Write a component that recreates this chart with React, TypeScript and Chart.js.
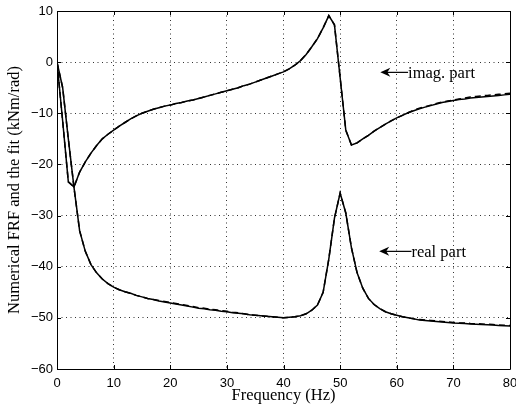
import { useEffect, useRef } from "react";
import { Chart, registerables } from "chart.js";

Chart.register(...registerables);

const frequencyHz = [
  0, 1, 2, 3, 4, 5, 6, 7, 8, 9, 10, 11, 12, 13, 14, 15, 16, 17, 18, 19, 20,
  21, 22, 23, 24, 25, 26, 27, 28, 29, 30, 31, 32, 33, 34, 35, 36, 37, 38, 39, 40,
  41, 42, 43, 44, 45, 46, 47, 48, 49, 50, 51, 52, 53, 54, 55, 56, 57, 58, 59, 60,
  61, 62, 63, 64, 65, 66, 67, 68, 69, 70, 71, 72, 73, 74, 75, 76, 77, 78, 79, 80,
];

const imagNumerical = [
  0, -11.5, -23.4, -24.4, -21.5, -19.5, -17.8, -16.3, -15.0, -14.1, -13.3,
  -12.5, -11.8, -11.1, -10.5, -10.0, -9.6, -9.2, -8.9, -8.6, -8.4,
  -8.1, -7.9, -7.6, -7.4, -7.1, -6.8, -6.5, -6.2, -5.9, -5.6,
  -5.3, -5.0, -4.6, -4.3, -3.9, -3.5, -3.1, -2.7, -2.3, -1.9,
  -1.3, -0.6, 0.3, 1.5, 3.0, 4.6, 6.7, 9.1, 7.3, -3.0,
  -13.3, -16.2, -15.8, -15.0, -14.3, -13.5, -12.8, -12.1, -11.5, -10.9,
  -10.4, -9.9, -9.5, -9.1, -8.8, -8.5, -8.2, -7.9, -7.7, -7.5,
  -7.3, -7.2, -7.0, -6.9, -6.8, -6.7, -6.6, -6.5, -6.4, -6.3,
];

const imagFit = [
  0, -11.5, -23.4, -24.4, -21.5, -19.5, -17.8, -16.3, -15.0, -14.1, -13.3,
  -12.5, -11.8, -11.1, -10.5, -10.0, -9.6, -9.2, -8.9, -8.6, -8.4,
  -8.1, -7.9, -7.6, -7.4, -7.1, -6.8, -6.5, -6.2, -5.9, -5.6,
  -5.3, -5.0, -4.6, -4.3, -3.9, -3.5, -3.1, -2.7, -2.3, -1.9,
  -1.3, -0.6, 0.3, 1.5, 3.0, 4.6, 6.7, 9.1, 7.3, -3.0,
  -13.3, -16.2, -15.8, -15.0, -14.3, -13.5, -12.8, -12.1, -11.5, -10.9,
  -10.4, -9.9, -9.4, -9.0, -8.7, -8.4, -8.1, -7.8, -7.6, -7.4,
  -7.2, -7.0, -6.8, -6.7, -6.6, -6.5, -6.4, -6.3, -6.2, -6.1,
];

const realNumerical = [
  0, -5.0, -15.0, -24.5, -33.0, -37.0, -39.6, -41.2, -42.4, -43.3, -44.0,
  -44.5, -44.9, -45.2, -45.6, -45.9, -46.2, -46.4, -46.7, -46.9, -47.1,
  -47.3, -47.5, -47.7, -47.9, -48.1, -48.2, -48.4, -48.5, -48.7, -48.8,
  -49.0, -49.1, -49.2, -49.4, -49.5, -49.6, -49.7, -49.8, -49.9, -50.0,
  -49.9, -49.8, -49.6, -49.2, -48.5, -47.5, -45.0, -38.5, -30.5, -25.6,
  -29.5, -36.3, -41.2, -44.2, -46.2, -47.4, -48.2, -48.8, -49.2, -49.5,
  -49.8, -50.0, -50.2, -50.4, -50.5, -50.6, -50.7, -50.8, -50.9, -51.0,
  -51.05, -51.1, -51.2, -51.25, -51.3, -51.35, -51.4, -51.5, -51.55, -51.6,
];

const realFit = [
  0, -5.0, -15.0, -24.5, -33.0, -37.0, -39.6, -41.2, -42.4, -43.3, -44.0,
  -44.5, -44.9, -45.2, -45.6, -45.9, -46.2, -46.4, -46.6, -46.8, -47.0,
  -47.2, -47.4, -47.6, -47.8, -48.0, -48.1, -48.3, -48.4, -48.6, -48.7,
  -48.9, -49.0, -49.2, -49.4, -49.5, -49.6, -49.7, -49.8, -49.9, -50.0,
  -49.9, -49.8, -49.6, -49.2, -48.5, -47.5, -45.0, -38.5, -30.5, -25.6,
  -29.5, -36.3, -41.2, -44.2, -46.2, -47.4, -48.2, -48.8, -49.2, -49.5,
  -49.8, -50.0, -50.2, -50.3, -50.4, -50.5, -50.6, -50.7, -50.8, -50.9,
  -51.0, -51.0, -51.1, -51.15, -51.2, -51.25, -51.3, -51.4, -51.45, -51.5,
];

const xTicks = [0, 10, 20, 30, 40, 50, 60, 70, 80];
const yTicks = [-60, -50, -40, -30, -20, -10, 0, 10];

const xTitle = "Frequency (Hz)";
const yTitle = "Numerical FRF and the fit (kNm/rad)";

// labels: [text, arrow tip x (Hz), arrow tip y, text start x (Hz)]
const annotations: [string, number, number, number][] = [
  ["imag. part", 57.1, -2.0, 62.0],
  ["real part", 56.9, -37.0, 62.6],
];

const toXY = (ys: number[]) => ys.map((y, i) => ({ x: frequencyHz[i], y }));

const framePlugin = {
  id: "frame",
  afterDraw(chart: any) {
    const { ctx, chartArea } = chart;
    const { left, right, top, bottom } = chartArea;
    const xs = chart.scales.x;
    const ys = chart.scales.y;
    ctx.save();
    ctx.strokeStyle = "#000";
    ctx.lineWidth = 1;
    ctx.setLineDash([]);
    ctx.beginPath();
    ctx.rect(Math.round(left) + 0.5, Math.round(top) + 0.5, Math.round(right - left), Math.round(bottom - top));
    ctx.stroke();
    const tl = 4;
    ctx.beginPath();
    xTicks.forEach((v) => {
      const px = Math.round(xs.getPixelForValue(v)) + 0.5;
      ctx.moveTo(px, bottom);
      ctx.lineTo(px, bottom - tl);
      ctx.moveTo(px, top);
      ctx.lineTo(px, top + tl);
    });
    yTicks.forEach((v) => {
      const py = Math.round(ys.getPixelForValue(v)) + 0.5;
      ctx.moveTo(left, py);
      ctx.lineTo(left + tl, py);
      ctx.moveTo(right, py);
      ctx.lineTo(right - tl, py);
    });
    ctx.stroke();

    // annotations with arrows
    ctx.fillStyle = "#000";
    ctx.font = '16.5px "Liberation Serif"';
    ctx.textBaseline = "middle";
    ctx.textAlign = "left";
    annotations.forEach(([text, tx, ty, sx]) => {
      const ax = xs.getPixelForValue(tx);
      const ay = ys.getPixelForValue(ty);
      const ex = xs.getPixelForValue(sx);
      ctx.beginPath();
      ctx.moveTo(ax + 5, ay);
      ctx.lineTo(ex, ay);
      ctx.lineWidth = 1.2;
      ctx.stroke();
      ctx.beginPath();
      ctx.moveTo(ax, ay);
      ctx.lineTo(ax + 10, ay - 4.5);
      ctx.lineTo(ax + 7, ay);
      ctx.lineTo(ax + 10, ay + 4.5);
      ctx.closePath();
      ctx.fill();
      ctx.fillText(text, ex, ay + 1);
    });

    // axis titles
    ctx.textAlign = "center";
    ctx.fillText(xTitle, (left + right) / 2, bottom + 27);
    ctx.save();
    ctx.translate(15, (top + bottom) / 2);
    ctx.rotate(-Math.PI / 2);
    ctx.fillText(yTitle, 0, 0);
    ctx.restore();
    ctx.restore();
  },
};

export default function App() {
  const ref = useRef<HTMLCanvasElement | null>(null);
  useEffect(() => {
    if (!ref.current) return;
    const chart = new Chart(ref.current, {
      type: "line",
      data: {
        datasets: [
          {
            label: "imag fit",
            data: toXY(imagFit),
            borderColor: "#000",
            borderWidth: 1.5,
            borderDash: [6, 4],
            pointRadius: 0,
            tension: 0,
          },
          {
            label: "real fit",
            data: toXY(realFit),
            borderColor: "#000",
            borderWidth: 1.5,
            borderDash: [6, 4],
            pointRadius: 0,
            tension: 0,
          },
          {
            label: "imag. part",
            data: toXY(imagNumerical),
            borderColor: "#000",
            borderWidth: 1.5,
            pointRadius: 0,
            tension: 0,
          },
          {
            label: "real part",
            data: toXY(realNumerical),
            borderColor: "#000",
            borderWidth: 1.5,
            pointRadius: 0,
            tension: 0,
          },
        ],
      },
      options: {
        animation: false,
        responsive: false,
        maintainAspectRatio: false,
        layout: { padding: { top: 11, right: 6, left: 0, bottom: 0 } },
        plugins: { legend: { display: false }, tooltip: { enabled: false } },
        scales: {
          x: {
            type: "linear",
            min: 0,
            max: 80,
            afterBuildTicks: (s: any) => {
              s.ticks = xTicks.map((v) => ({ value: v }));
            },
            afterFit: (s: any) => {
              s.height = 43;
              s.paddingLeft = 0;
              s.paddingRight = 0;
            },
            ticks: {
              color: "#000",
              font: { family: '"Liberation Sans"', size: 13 },
              padding: 7,
              maxRotation: 0,
              autoSkip: false,
            },
            grid: { color: "#333", lineWidth: 1, drawTicks: false },
            border: { display: false, dash: [1, 3.5] },
          },
          y: {
            type: "linear",
            min: -60,
            max: 10,
            afterBuildTicks: (s: any) => {
              s.ticks = yTicks.map((v) => ({ value: v }));
            },
            afterFit: (s: any) => {
              s.width = 57;
              s.paddingTop = 0;
              s.paddingBottom = 0;
            },
            ticks: {
              color: "#000",
              font: { family: '"Liberation Sans"', size: 13 },
              padding: 4,
              autoSkip: false,
              callback: (v: any) => String(v).replace("-", "\u2212"),
            },
            grid: { color: "#333", lineWidth: 1, drawTicks: false },
            border: { display: false, dash: [1, 3.5] },
          },
        },
      },
      plugins: [framePlugin],
    });
    return () => chart.destroy();
  }, []);
  return (
    <div style={{ position: "fixed", left: 0, top: 0, width: 516, height: 412, background: "#fff" }}>
      <canvas ref={ref} width={516} height={412} style={{ display: "block" }} />
    </div>
  );
}
